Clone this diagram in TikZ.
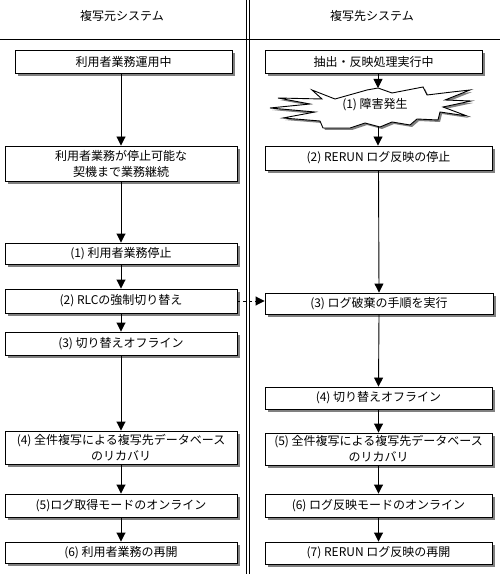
\documentclass[tikz,border=0pt]{standalone}
\usepackage{fontspec}
\setmainfont{Noto Sans CJK JP}
\usetikzlibrary{arrows.meta,shadows}
\begin{document}
\begin{tikzpicture}[x=1pt,y=-1pt,
  txt/.style={font=\fontsize{12}{16}\selectfont, align=center, inner sep=0pt},
  box/.style={txt, draw=black, line width=0.9pt, fill=white,
    general shadow={fill=black!50, shadow xshift=3pt, shadow yshift=-3pt}},
  arr/.style={line width=0.9pt, -{Triangle[width=9pt,length=9pt]}},
  rule/.style={line width=0.9pt},
]
\useasboundingbox (0,0) rectangle (500,577);
% frame lines
\coordinate (hl) at (0,39);
\coordinate (hr) at (500,39);
\coordinate (v1t) at (246.5,0);
\coordinate (v1b) at (246.5,574);
\coordinate (v2t) at (249.5,0);
\coordinate (v2b) at (249.5,574);
\draw[rule] (hl) -- (hr);
\draw[rule] (v1t) -- (v1b);
\draw[rule] (v2t) -- (v2b);
% titles
\node[txt] (t1) at (122,16) {複写元システム};
\node[txt] (t2) at (372,16) {複写先システム};

% left column
\node[box, minimum width=217pt, minimum height=23pt] (L0) at (123.5,61.5) {利用者業務運用中};
\node[box, minimum width=232pt, minimum height=35pt] (L1) at (121,163.5) {利用者業務が停止可能な\\契機まで業務継続};
\node[box, minimum width=232pt, minimum height=21pt] (L2) at (121,253.5) {(1) 利用者業務停止};
\node[box, minimum width=232pt, minimum height=24pt] (L3) at (121,301) {(2) RLCの強制切り替え};
\node[box, minimum width=232pt, minimum height=23pt] (L4) at (121,343.5) {(3) 切り替えオフライン};
\node[box, minimum width=232pt, minimum height=33pt] (L5) at (121,447.5) {(4) 全件複写による複写先データベース\\のリカバリ};
\node[box, minimum width=232pt, minimum height=23pt] (L6) at (121,505.5) {(5)ログ取得モードのオンライン};
\node[box, minimum width=232pt, minimum height=21pt] (L7) at (121,552.5) {(6) 利用者業務の再開};

% right column
\node[box, minimum width=217pt, minimum height=23pt] (R0) at (373.5,61.5) {抽出・反映処理実行中};
\draw[line width=0.9pt, fill=white,
  preaction={fill=black!50, transform canvas={xshift=2pt,yshift=-2pt}}]
  (312,90) -- (335,99) -- (367,90) -- (378,88) -- (392,93) -- (423,87) -- (427,95)
  -- (452,92) -- (470,90) -- (445,100) -- (471,101) -- (443,107) -- (467,116)
  -- (440,112) -- (438,120) -- (417,119) -- (410,125) -- (392,122) -- (380,127)
  -- (365,123) -- (350,128) -- (323,128) -- (320,121) -- (283,118) -- (315,112)
  -- (270,108) -- (310,104) -- (278,98) -- (322,99) -- cycle;
\node[txt] (S) at (375,105) {(1) 障害発生};
\coordinate (Stop) at (378,88);
\coordinate (Sbot) at (378,126.5);
\node[box, minimum width=227pt, minimum height=24pt] (R1) at (378.5,158) {(2) RERUN ログ反映の停止};
\node[box, minimum width=228pt, minimum height=21pt] (R2) at (379,303.5) {(3) ログ破棄の手順を実行};
\node[box, minimum width=227pt, minimum height=22pt] (R3) at (378.5,398) {(4) 切り替えオフライン};
\node[box, minimum width=227pt, minimum height=32pt] (R4) at (378.5,449) {(5) 全件複写による複写先データベース\\のリカバリ};
\node[box, minimum width=227pt, minimum height=23pt] (R5) at (378.5,505.5) {(6) ログ反映モードのオンライン};
\node[box, minimum width=227pt, minimum height=22pt] (R6) at (378.5,553) {(7) RERUN ログ反映の再開};

% left arrows
\draw[arr] (L1.north |- L0.south) -- (L1.north);
\draw[arr] (L1.south) -- (L2.north);
\draw[arr] (L2.south) -- (L3.north);
\draw[arr] (L3.south) -- (L4.north);
\draw[arr] (L4.south) -- (L5.north);
\draw[arr] (L5.south) -- (L6.north);
\draw[arr] (L6.south) -- (L7.north);

% right arrows
\draw[arr] (R0.south -| Stop) -- (Stop);
\draw[arr] (Sbot) -- (Sbot |- R1.north);
\draw[arr] (R1.south) -- (R2.north);
\draw[arr] (R2.south) -- (R3.north);
\draw[arr] (R3.south) -- (R4.north);
\draw[arr] (R4.south) -- (R5.north);
\draw[arr] (R5.south) -- (R6.north);

% dashed cross link
\draw[arr, dash pattern=on 3pt off 3pt] (L3.east) -- (L3.east -| R2.west);
\end{tikzpicture}
\end{document}
